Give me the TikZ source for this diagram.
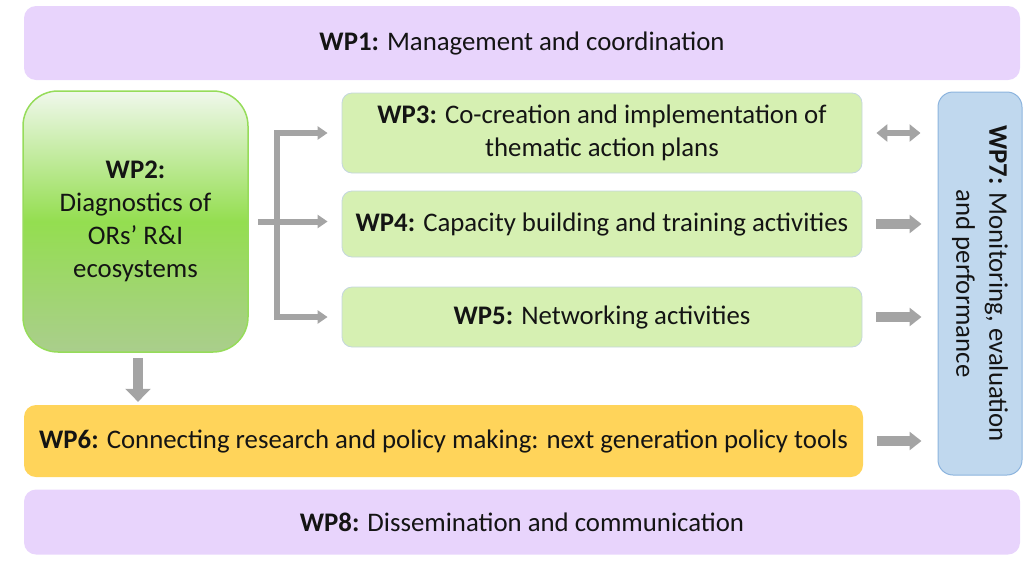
\documentclass[tikz,border=0pt]{standalone}
\usepackage{fontspec}
\setmainfont{Carlito}
\usetikzlibrary{arrows.meta}
\definecolor{lav}{RGB}{232,212,252}
\definecolor{lgreen}{RGB}{214,240,178}
\definecolor{lgreenb}{RGB}{196,214,222}
\definecolor{gtop}{RGB}{240,248,236}
\definecolor{gmid}{RGB}{148,222,80}
\definecolor{gbot}{RGB}{170,206,140}
\definecolor{gborder}{RGB}{150,220,90}
\definecolor{yel}{RGB}{255,212,90}
\definecolor{lblue}{RGB}{192,216,238}
\definecolor{lblueb}{RGB}{140,180,222}
\definecolor{arr}{RGB}{164,164,164}
\definecolor{txt}{RGB}{20,20,20}
\tikzset{
  box/.style={inner sep=0pt, align=center, text=txt, font=\fontsize{26.8}{33}\selectfont},
  lavbox/.style={box, fill=lav, rounded corners=12pt},
  greenbox/.style={box, fill=lgreen, draw=lgreenb, line width=0.8pt, rounded corners=10pt},
  bigarrow/.style={draw=arr, line width=10pt, -{Triangle[width=18pt,length=12pt]}},
  dblarrow/.style={draw=arr, line width=6pt, {Triangle[width=17pt,length=11pt]}-{Triangle[width=17pt,length=11pt]}},
  brarrow/.style={draw=arr, line width=6pt, -{Triangle[width=13pt,length=10pt]}},
  brdbl/.style={draw=arr, line width=6pt, {Triangle[width=13pt,length=10pt]}-{Triangle[width=13pt,length=10pt]}},
  downarrow/.style={draw=arr, line width=10pt, -{Triangle[width=25pt,length=13pt]}},
}
\begin{document}
\begin{tikzpicture}[x=1pt,y=-1pt]
\useasboundingbox (0,0) rectangle (1030,560);
\node[lavbox, minimum width=996pt, minimum height=74pt] (wp1) at (522,43) {\textbf{WP1:} Management and coordination};
\node[box, minimum width=225pt, minimum height=261pt, rounded corners=35pt, draw=gborder, line width=1.5pt,
      top color=gtop, bottom color=gbot, middle color=gmid] (wp2) at (135.5,221.5)
      {\textbf{WP2:}\\Diagnostics of\\ORs’ R\&I\\ecosystems};
\node[greenbox, minimum width=520pt, minimum height=80pt] (wp3) at (602,133) {\textbf{WP3:} Co-creation and implementation of\\thematic action plans};
\node[greenbox, minimum width=520pt, minimum height=66pt] (wp4) at (602,224) {\textbf{WP4:} Capacity building and training activities};
\node[greenbox, minimum width=520pt, minimum height=60pt] (wp5) at (602,317) {\textbf{WP5:} Networking activities};
\node[box, fill=yel, rounded corners=12pt, minimum width=839pt, minimum height=72pt] (wp6) at (443.5,441) {\textbf{WP6:} Connecting research and policy making: next generation policy tools};
\node[box, fill=lblue, draw=lblueb, line width=1pt, rounded corners=15pt, minimum width=84pt, minimum height=383pt] (wp7) at (980,283.5) {};
\node[box, rotate=-90] (wp7t) at (wp7.center) {\textbf{WP7:} Monitoring, evaluation\\and performance};
\node[lavbox, minimum width=996pt, minimum height=65pt] (wp8) at (522,522) {\textbf{WP8:} Dissemination and communication};
% bracket
\coordinate (sp) at (277,0);
\coordinate (dx) at (138,0);
\draw[brdbl] ([xshift=-14pt]wp3.west) -| (sp |- wp3.west) |- ([xshift=-14pt]wp5.west);
\draw[brarrow] ([xshift=9pt]wp2.east) -- ([xshift=-14pt]wp4.west |- wp2.east);
% right arrows
\draw[dblarrow] ([xshift=14pt]wp3.east) -- ([xshift=-17pt]wp7.west |- wp3.east);
\draw[bigarrow] ([xshift=14pt]wp4.east) -- ([xshift=-16pt]wp7.west |- wp4.east);
\draw[bigarrow] ([xshift=14pt]wp5.east) -- ([xshift=-16pt]wp7.west |- wp5.east);
\draw[bigarrow] ([xshift=14pt]wp6.east) -- ([xshift=-16pt]wp7.west |- wp6.east);
% down arrow
\draw[downarrow] ([yshift=-5pt]dx |- wp2.south) -- ([yshift=3pt]dx |- wp6.north);
\end{tikzpicture}
\end{document}
